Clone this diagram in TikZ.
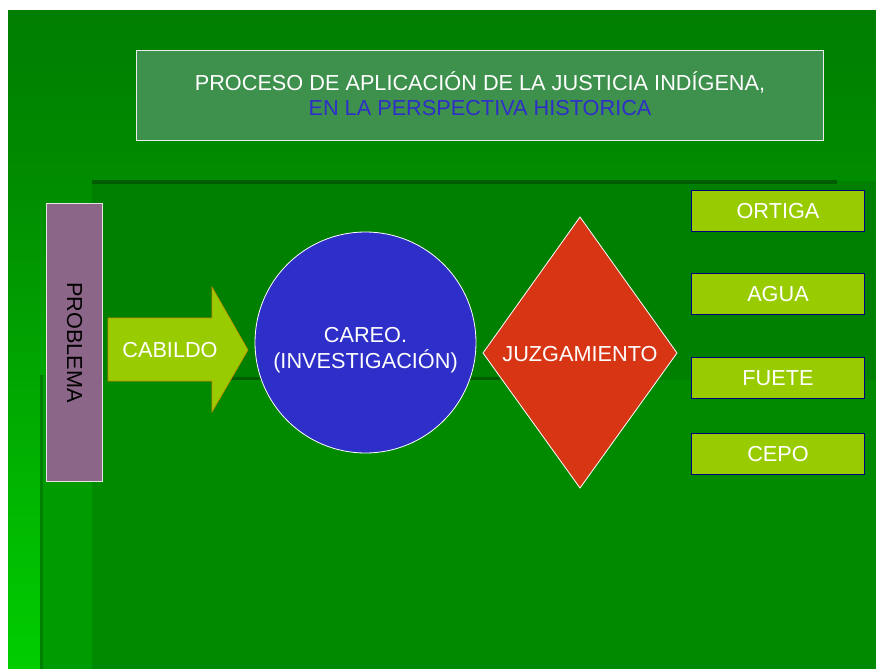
\documentclass[tikz,border=0pt]{standalone}
\usepackage{fontspec}
\setmainfont{Liberation Sans}
\definecolor{gTop}{RGB}{0,126,0}
\definecolor{gMid}{RGB}{0,140,0}
\definecolor{gR}{RGB}{0,128,0}
\definecolor{gLow}{RGB}{0,138,0}
\definecolor{gBright}{RGB}{0,205,0}
\definecolor{gHalf}{RGB}{0,180,0}
\definecolor{gCol}{RGB}{0,155,0}
\definecolor{gDark}{RGB}{0,92,0}
\definecolor{titleFill}{RGB}{62,145,77}
\definecolor{titleBlue}{RGB}{46,46,200}
\definecolor{probFill}{RGB}{140,102,136}
\definecolor{lime}{RGB}{153,204,0}
\definecolor{limeEdge}{RGB}{204,136,0}
\definecolor{circBlue}{RGB}{46,46,200}
\definecolor{diaRed}{RGB}{216,53,21}
\definecolor{navy}{RGB}{0,0,128}
\tikzset{
  bigtext/.style={font=\fontsize{21.7}{26}\selectfont, text=white, align=center},
  optbox/.style={fill=lime, draw=navy, line width=1pt, minimum width=173pt, minimum height=41pt, anchor=north west, inner sep=0pt},
}
\begin{document}
\begin{tikzpicture}[x=1pt,y=-1pt]
\useasboundingbox (0,0) rectangle (876,669);
% background
\fill[white] (0,0) rectangle (876,669);
\shade[top color=gTop, bottom color=gMid] (8,11) rectangle (876,181.5);
\shade[top color=gMid, middle color=gHalf, bottom color=gBright] (8,181) rectangle (92,669);
\fill[gR] (92,181) rectangle (876,380);
\fill[gLow] (92,380) rectangle (876,669);
\fill[gCol] (40,375) rectangle (92,669);
\fill[gR] (40,375) rectangle (43,669);
\fill[gDark] (92,180) rectangle (837,184);
\fill[gDark] (230,377) rectangle (500,380);
% title
\node[draw=white!85!gray, fill=titleFill, line width=0.8pt, minimum width=687pt, minimum height=90pt, anchor=north west] (titlebox) at (136,50) {};
\node[font=\fontsize{21.7}{25}\selectfont, text=white, anchor=center] (t1) at (480,82) {PROCESO DE APLICACIÓN DE LA JUSTICIA INDÍGENA,};
\node[font=\fontsize{21.7}{25}\selectfont, text=titleBlue, anchor=center] (t2) at (480,108) {EN LA PERSPECTIVA HISTORICA};
% problema
\node[draw=white!80!gray, fill=probFill, line width=1pt, minimum width=56pt, minimum height=278pt, anchor=north west, inner sep=0pt] (problema) at (46,203) {};
\node[font=\fontsize{21.7}{26}\selectfont, text=black, rotate=-90] (problemaText) at (problema.center) {PROBLEMA};
% cabildo arrow
\fill[lime, draw=limeEdge, line width=0.6pt] (108,318) -- (212,318) -- (212,287) -- (248,350) -- (212,412) -- (212,381) -- (108,381) -- cycle;
\node[bigtext] (cabildo) at (170,350) {CABILDO};
% circle
\node[circle, fill=circBlue, draw=white, line width=0.8pt, minimum size=221pt, inner sep=0pt] (careo) at (365.5,342.5) {};
\node[bigtext] (careoText) at (365.5,350) {CAREO.\\(INVESTIGACIÓN)};
% diamond
\coordinate (dT) at (580,217);
\coordinate (dR) at (677,353);
\coordinate (dB) at (580,488);
\coordinate (dL) at (483,353);
\fill[diaRed, draw=white, line width=0.8pt] (dT) -- (dR) -- (dB) -- (dL) -- cycle;
\node[bigtext] (juzgamiento) at (580,354) {JUZGAMIENTO};
% options
\node[optbox] (ortiga) at (691,190) {};
\node[bigtext] (ortigaText) at (ortiga.center) {ORTIGA};
\node[optbox] (agua) at (691,273) {};
\node[bigtext] (aguaText) at (agua.center) {AGUA};
\node[optbox] (fuete) at (691,357) {};
\node[bigtext] (fueteText) at (fuete.center) {FUETE};
\node[optbox] (cepo) at (691,433) {};
\node[bigtext] (cepoText) at (cepo.center) {CEPO};
\end{tikzpicture}
\end{document}
